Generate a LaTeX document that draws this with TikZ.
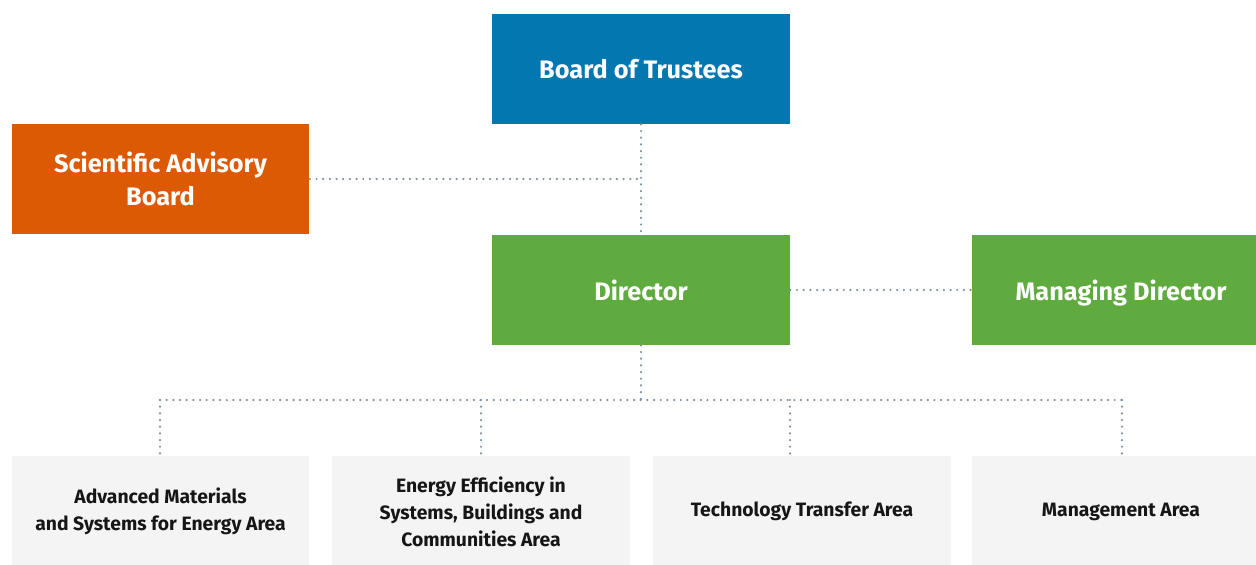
\documentclass[tikz,border=0pt]{standalone}
\usepackage{fontspec}
\setmainfont{Fira Sans}
\usetikzlibrary{positioning}
\definecolor{trustblue}{HTML}{0277B0}
\definecolor{advorange}{HTML}{DD5A05}
\definecolor{dirgreen}{HTML}{5FAB40}
\definecolor{areagray}{HTML}{F4F4F4}
\definecolor{areatext}{HTML}{161616}
\definecolor{dotgray}{HTML}{7F92A0}
\tikzset{font=\bfseries}
\tikzset{headbox/.style={minimum width=5.96cm, minimum height=2.2cm, inner sep=0pt,
    align=center, text=white, font=\bfseries\fontsize{14.4}{18.7}\selectfont}}
\tikzset{areabox/.style={minimum width=5.96cm, minimum height=2.23cm, inner sep=0pt,
    align=center, fill=areagray, text=areatext, font=\bfseries\fontsize{11}{15.3}\selectfont}}
\tikzset{link/.style={dotgray, line width=1.4pt, line cap=round, dash pattern=on 0pt off 3.8pt}}

\begin{document}
\begin{tikzpicture}[x=0.02cm,y=-0.02cm]
\useasboundingbox (0,0) rectangle (1256,564);
% upper boxes
\node[headbox, fill=trustblue] (trustees) at (641,69) {Board of Trustees};
\node[headbox, fill=advorange] (advisory) at (160.5,179) {Scientific Advisory\\Board};
\node[headbox, fill=dirgreen] (director) at (641,290) {Director};
\node[headbox, fill=dirgreen, text depth=0pt] (managing) at (1121,290) {Managing Director};
% areas
\node[areabox] (area1) at (160.5,511.5) {Advanced Materials\\and Systems for Energy Area};
\node[areabox] (area2) at (481,511.5) {Energy Efficiency in\\Systems, Buildings and\\Communities Area};
\node[areabox] (area3) at (802,511.5) {Technology Transfer Area};
\node[areabox] (area4) at (1121,511.5) {Management Area};
% connectors
\coordinate (bus) at (641,400);
\coordinate (j1) at (160,400);
\coordinate (j2) at (481,400);
\coordinate (j3) at (790,400);
\coordinate (j4) at (1122,400);
\draw[link] (trustees.south) -- (director.north);
\draw[link] (advisory.east) -- (advisory.east -| trustees.south);
\draw[link] (director.east) -- (managing.west);
\draw[link] (director.south) -- (bus);
\draw[link] (j1) -- (j4);
\draw[link] (j1) -- (j1 |- area1.north);
\draw[link] (j2) -- (j2 |- area2.north);
\draw[link] (j3) -- (j3 |- area3.north);
\draw[link] (j4) -- (j4 |- area4.north);
\end{tikzpicture}
\end{document}
